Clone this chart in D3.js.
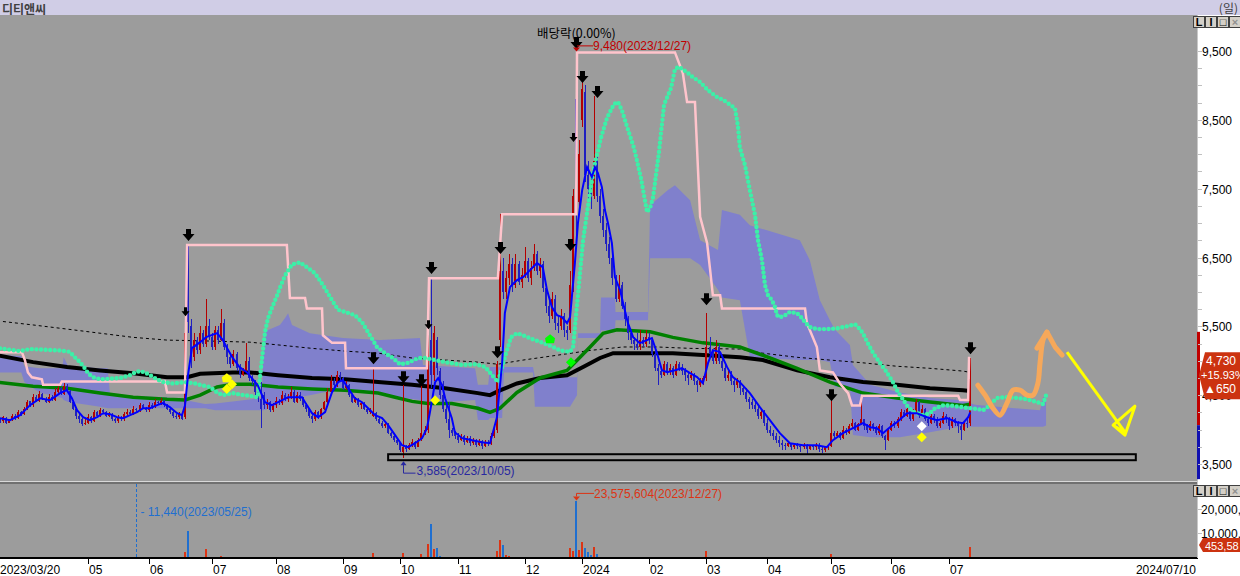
<!DOCTYPE html>
<html><head><meta charset="utf-8">
<script src="https://cdn.jsdelivr.net/npm/d3@7"></script>
<style>
html,body{margin:0;padding:0;background:#fff;}
svg{display:block;}
text{font-family:"Liberation Sans",Arial,sans-serif;}
.kr{font-family:"Noto Sans CJK KR","Noto Sans",sans-serif;}
</style></head><body>
<svg id="c" width="1240" height="576"></svg>
<script>
// ---------- DATA ----------
const title = "디티앤씨";
const periodLabel = "(일)";
const opens = [
4180,4150,4120,4170,4100,4150,4200,4170,4250,4230, 4300,4410,4350,4480,4420,4520,4450,4400,4480,4430,
4550,4600,4520,4640,4560,4400,4300,4200,4150,4080, 4100,4180,4120,4250,4200,4280,4250,4200,4220,4150,
4120,4180,4150,4220,4260,4230,4300,4280,4350,4320, 4280,4360,4330,4400,4380,4420,4350,4300,4250,4200,
4180,4230,4180,6450,5500,5050,5300,5150,5400,5250, 5500,5350,5200,5450,5300,5550,5200,5050,4950,5100,
4900,4800,4850,5000,4750,4700,4550,4450,4500,4350, 4400,4280,4350,4420,4380,4500,4450,4480,4550,4400,
4500,4450,4350,4300,4200,4150,4250,4180,4300,4400, 4550,4700,4650,4800,4750,4600,4650,4500,4400,4450,
4350,4380,4300,4250,4200,4240,4150,4100,4050,4080, 3950,3900,3850,3800,3680,3750,3720,3780,3820,3750,
3850,3950,4000,5300,4800,5300,4850,4500,4300,4150, 4000,3950,3900,3850,3900,3820,3880,3800,3850,3780,
3830,3760,3820,3800,3900,4000,5300,6300,6000,6200, 6400,6100,6400,6150,6250,6450,6200,6350,6550,6300,
6400,6050,5800,5650,5900,5550,5500,5650,5450,5450, 6100,8800,7300,8500,8900,7700,7500,7400,7900,7400,
7100,6900,6700,6500,6200,5900,6100,5800,5600,5400, 5300,5250,5200,5300,5250,5350,5300,5100,4900,4850,
4800,4950,4850,4900,4800,4950,4900,4850,4800,4750, 4800,4700,4650,4700,4750,5200,5100,5000,5200,5000,
4900,4750,4800,4700,4650,4700,4600,4550,4450,4400, 4350,4300,4200,4250,4100,4000,3950,3900,3850,3800,
3780,3760,3800,3740,3780,3760,3740,3780,3720,3760, 3740,3780,3720,3700,3740,3760,3950,3900,3950,3880,
4000,3950,4050,4100,4000,4080,4150,4050,4000,4080, 4020,3950,4050,3900,3850,4000,4100,4050,4150,4250,
4200,4300,4150,4250,4400,4200,4300,4150,4100,4200, 4150,4050,4100,4200,4150,4050,4150,4100,4050,4000,
4100,4100];
const highs = [
4200,4170,4200,4180,4160,4230,4220,4280,4270,4330, 4430,4420,4520,4500,4560,4530,4470,4520,4500,4600,
4650,4620,4680,4660,4580,4420,4320,4230,4170,4150, 4220,4200,4280,4270,4320,4300,4270,4250,4240,4170,
4210,4200,4250,4300,4290,4340,4320,4390,4370,4330, 4400,4380,4440,4420,4460,4430,4370,4310,4270,4230,
4260,4250,5420,6680,5600,5400,5350,5500,5450,5900, 5600,5400,5500,5500,5750,5600,5250,5100,5150,5120,
4950,4900,5260,5050,4800,4720,4600,4690,4550,4450, 4420,4380,4470,4450,4560,4530,4520,4620,4570,4540,
4550,4480,4380,4320,4230,4280,4270,4320,4420,4600, 4800,4750,4850,4830,4760,4700,4660,4520,4480,4460,
4420,4400,4330,4320,4900,4260,4180,4120,4120,4100, 3960,3920,3870,3820,4650,3780,3810,3860,3840,3880,
4650,4050,5400,6200,5500,5350,4900,4700,4350,4400, 4030,3980,3950,3940,3920,3910,3900,3880,3870,3860,
3850,3850,3850,3950,4050,5000,7130,6500,6300,6550, 6500,6550,6450,6350,6650,6500,6450,6700,6600,6500,
6450,6100,5900,6000,5950,5650,5750,5700,5500,6300, 7500,9480,8200,9100,9000,7900,7700,8850,8000,7500,
7200,7000,6800,6550,6250,6250,6150,5850,5650,5450, 5350,5400,5450,5350,5450,5400,5300,5150,4950,4900,
5000,4980,4950,4920,5000,4980,4950,4900,4820,4850, 4820,4720,4750,4780,5700,5350,5150,5300,5250,5050,
4950,4850,4850,4750,4750,4720,4650,4600,4480,4450, 4400,4350,4300,4280,4150,4050,4000,3950,3900,3850,
3800,3830,3810,3800,3800,3790,3800,3790,3780,3780, 3800,3800,3750,3760,3780,4450,3980,3980,3960,4050,
4030,4080,4150,4110,4100,4470,4160,4080,4120,4100, 4050,4080,4060,3920,4020,4120,4130,4180,4300,4280,
4350,4320,4300,4450,4420,4350,4320,4180,4250,4230, 4180,4130,4250,4220,4180,4180,4170,4120,4080,4120,
4150,5040];
const lows = [
4120,4100,4100,4080,4090,4130,4140,4150,4200,4210, 4280,4330,4330,4400,4400,4430,4380,4380,4410,4420,
4520,4500,4500,4540,4380,4280,4150,4100,4050,4060, 4080,4100,4110,4170,4190,4230,4180,4180,4130,4090,
4100,4130,4130,4200,4210,4210,4260,4260,4300,4260, 4260,4300,4310,4350,4360,4330,4280,4220,4170,4150,
4160,4140,4160,5400,4900,5000,5100,5100,5200,5200, 5300,5150,5150,5250,5280,5150,4950,4900,4920,4850,
4750,4780,4820,4700,4650,4500,4400,4020,4300,4300, 4250,4250,4320,4350,4360,4420,4400,4450,4380,4380,
4420,4330,4250,4170,4100,4130,4150,4160,4280,4380, 4520,4600,4620,4700,4580,4580,4470,4380,4380,4330,
4300,4280,4220,4230,4180,4120,4080,4030,4030,3930, 3880,3820,3780,3680,3585,3680,3700,3740,3720,3740,
3830,3920,3950,4600,4700,4800,4450,4250,4100,3880, 3900,3860,3800,3830,3780,3800,3760,3780,3740,3760,
3720,3740,3760,3780,3880,3950,5200,5900,5900,6100, 6000,6050,6100,6050,6200,6150,6100,6300,6250,6200,
6000,5700,5550,5600,5450,5400,5450,5350,5300,5400, 6000,6800,7200,8400,7600,7300,7200,7350,7300,7000,
6800,6600,6400,6100,5850,5850,5750,5500,5300,5250, 5150,5150,5150,5200,5200,5250,5050,4850,4650,4750,
4780,4800,4800,4750,4780,4850,4800,4700,4650,4720, 4650,4550,4620,4650,4700,5050,4950,4950,4950,4850,
4700,4700,4650,4550,4600,4500,4500,4400,4300,4300, 4250,4150,4150,4050,3950,3900,3850,3800,3750,3700,
3700,3740,3700,3720,3720,3680,3720,3650,3700,3700, 3700,3680,3660,3680,3700,3740,3850,3880,3850,3860,
3920,3930,4030,3980,3980,4060,4000,3950,3980,3980, 3920,3920,3880,3700,3840,3980,4020,4030,4130,4180,
4180,4120,4130,4230,4170,4180,4120,4050,4080,4100, 4020,4020,4080,4100,4000,4030,4050,3950,3850,3980,
4020,4050];
const closes = [
4150,4120,4180,4100,4140,4200,4160,4250,4220,4300, 4400,4350,4480,4420,4520,4450,4400,4480,4430,4550,
4600,4520,4640,4560,4400,4300,4200,4150,4080,4100, 4180,4120,4250,4200,4280,4250,4200,4220,4150,4120,
4180,4150,4220,4260,4230,4300,4280,4350,4320,4280, 4360,4330,4400,4380,4420,4350,4300,4250,4200,4180,
4230,4160,5400,5560,5000,5300,5150,5400,5250,5500, 5350,5200,5450,5300,5550,5200,5050,4950,5100,4900,
4800,4850,5000,4750,4700,4550,4450,4300,4350,4400, 4280,4350,4420,4380,4500,4450,4480,4550,4400,4500,
4450,4350,4300,4200,4150,4250,4180,4300,4400,4550, 4700,4650,4800,4750,4600,4650,4500,4400,4450,4350,
4380,4300,4250,4300,4240,4150,4100,4050,4080,3950, 3900,3850,3800,3700,3750,3720,3780,3820,3750,3850,
3950,4000,4900,4800,5400,4900,4500,4300,4150,4000, 3950,3900,3850,3900,3820,3880,3800,3850,3780,3830,
3760,3820,3800,3900,4000,4950,6300,6000,6200,6400, 6100,6400,6150,6250,6450,6200,6350,6550,6300,6400,
6050,5800,5650,5900,5550,5500,5650,5450,5400,6100, 7400,7300,8000,8950,7700,7500,7400,7900,7400,7100,
6900,6700,6500,6200,5900,6100,5800,5600,5400,5300, 5250,5200,5300,5250,5350,5300,5100,4900,4850,4800,
4950,4850,4900,4800,4950,4900,4850,4800,4750,4800, 4700,4650,4700,4750,5200,5100,5000,5200,5000,4900,
4750,4800,4700,4650,4700,4600,4550,4450,4400,4350, 4300,4200,4250,4100,4000,3950,3900,3850,3800,3780,
3760,3800,3740,3780,3760,3740,3780,3720,3760,3740, 3780,3720,3700,3740,3760,3950,3900,3950,3880,4000,
3950,4050,4100,4000,4080,4150,4050,4000,4080,4020, 3950,4050,3900,3850,4000,4100,4050,4150,4250,4200,
4300,4150,4250,4400,4200,4300,4150,4100,4200,4150, 4050,4100,4200,4150,4050,4150,4100,4050,4000,4100,
4080,4730];
// volume in thousands of shares
const volumes = [
250,300,200,260,220,280,240,300,260,230, 320,280,350,260,300,240,210,280,250,330,
300,270,310,280,240,220,260,230,250,210, 230,200,260,220,250,240,210,230,200,220,
240,210,260,230,250,280,230,270,240,220, 260,230,280,250,270,240,220,210,230,240,
260,280,2500,11440,600,550,400,350,300,3900, 500,350,300,280,900,300,350,500,280,260,
300,250,400,280,260,300,280,320,260,250, 240,260,280,250,300,260,240,280,260,250,
230,250,240,220,260,240,250,280,300,350, 330,300,320,280,260,250,240,230,250,240,
230,220,250,240,2100,300,260,240,230,280, 260,250,300,320,2000,280,260,300,250,280,
1800,400,5800,14000,3800,4000,1000,500,450,350, 400,300,280,260,250,280,240,260,230,250,
240,260,250,400,350,2900,7500,5400,1200,700, 600,500,400,350,330,400,300,280,320,300,
350,300,280,260,300,280,260,300,350,4000, 3000,23576,3400,6600,4000,2400,1200,4500,1500,400,
350,300,320,400,300,400,280,300,260,250, 240,260,250,230,260,240,230,250,260,240,
230,250,240,220,260,230,240,220,250,230, 240,260,250,300,2900,500,400,300,280,260,
250,240,260,230,250,240,220,260,240,230, 240,230,250,220,260,240,230,250,220,240,
230,250,220,240,230,250,220,240,230,210, 230,220,240,210,250,1700,300,260,280,250,
240,260,230,250,240,400,260,240,230,250, 240,230,250,260,240,230,250,240,260,230,
250,240,260,230,250,240,230,250,240,260, 230,250,240,220,260,240,230,250,240,260,
300,4536];
// month ticks (trading-day index) and labels
const tickIdx = [10,30,50,71,92,114,133,152,174,193,215,234,254,275,295,314];
const tickLabels = ["","05","06","07","08","09","10","11","12","2024","02","03","04","05","06","07"];
const startLabel = "2023/03/20", endLabel = "2024/07/10";
const priceTicks = [9500,8500,7500,6500,5500,4500,3500];
const volTicks = [20000,10000];
const volTickLabels = ["20,000,","10,000,"];
// moving averages [index, price]
const maShort = [[1,4166],[4.3,4137],[7.6,4209],[10.9,4355],[14.2,4456],[17.5,4427],[20.8,4529],[23,4573],[24.7,4456],[26.4,4282],[28.4,4180],[30.7,4137],[33,4180],[35,4238],[37.3,4224],[39.6,4180],[41.6,4166],[43.9,4209],[46.2,4253],[48.2,4311],[50.5,4311],[52.8,4355],[54.7,4384],[57,4326],[59.4,4238],[61,4209],[62,4350],[63,4790],[64.3,5183],[67,5270],[69,5343],[72.6,5401],[74.5,5300],[75.9,5183],[77.8,5038],[80,4907],[82.4,4834],[86,4645],[88.4,4398],[90.7,4355],[92.7,4398],[96,4471],[100.6,4471],[102.2,4355],[103.9,4238],[105.9,4180],[108.2,4253],[110.5,4544],[112.5,4689],[114.1,4718],[115.8,4602],[118,4456],[120.4,4398],[122.4,4311],[124.7,4209],[127,4166],[129,4064],[131.3,3919],[133.6,3773],[135.6,3744],[137.9,3802],[140.2,3875],[141.8,4020],[142.8,4253],[144.5,4689],[145.5,4747],[146.8,4645],[147.8,4456],[150,4166],[151,3962],[153.4,3875],[156.7,3846],[160,3817],[162.6,3802],[164.9,4180],[166.6,4965],[167.5,5692],[169.2,6070],[171.5,6171],[173.5,6215],[175.8,6317],[178.1,6419],[180,6361],[181.4,6026],[183,5779],[184.7,5663],[186.3,5634],[188,5546],[189,5634],[190.6,6419],[191.6,7000],[193,7480],[194.6,7814],[196.2,7669],[197.2,7814],[198.2,7727],[199.5,7523],[200.5,7189],[201.5,7000],[202.8,6709],[203.8,6215],[205.5,6026],[206.5,5837],[208.1,5546],[209.8,5343],[212,5256],[214.4,5300],[216,5329],[217.7,5110],[219.3,4863],[221,4834],[223.6,4863],[225.9,4892],[228.6,4820],[230.9,4762],[232.8,4674],[234.5,4965],[236.1,5154],[238.5,5125],[240.8,4907],[242.7,4762],[245,4689],[248.3,4529],[251.6,4326],[254.9,4137],[258.2,3948],[261.5,3802],[265.8,3773],[270.4,3773],[273.7,3744],[275.7,3846],[279,3948],[282.3,4020],[285.6,4093],[288,4035],[290.2,4020],[292.2,3948],[294.5,4035],[296.8,4107],[300.1,4238],[303.4,4238],[306.7,4180],[310,4137],[313.3,4166],[316.6,4107],[318.6,4093],[320.3,4180],[321,4250]];
const maMid = [[0,4690],[11.9,4630],[23.1,4600],[34,4530],[44.9,4470],[56.1,4440],[62,4430],[67,4500],[72.6,4620],[77.8,4660],[83.4,4660],[92.7,4620],[103.9,4590],[114.8,4570],[125.7,4530],[131.3,4470],[136.9,4410],[142.1,4380],[150,4380],[158.6,4310],[162.6,4250],[165.9,4310],[171.5,4540],[179.1,4750],[188,4860],[192.3,5050],[195.6,5200],[199.9,5400],[204.5,5450],[215.4,5420],[222.9,5340],[232.8,5260],[239.4,5230],[245,5200],[252.6,5080],[263.9,4890],[274.7,4690],[285.6,4530],[296.8,4460],[307.7,4400],[318.6,4350],[321,4370]];
const maLong = [[0,5080],[11.9,4980],[23.1,4910],[34,4860],[44.9,4820],[56.1,4760],[62.7,4760],[67,4810],[77.8,4830],[83.4,4830],[92.7,4790],[103.9,4750],[114.8,4730],[125.7,4690],[136.9,4650],[147.8,4600],[158.6,4530],[162.6,4500],[165.9,4570],[171.5,4670],[179.1,4750],[188,4790],[193.3,4910],[198.9,5040],[203.2,5110],[212.1,5110],[222.9,5110],[234.2,5080],[245,5050],[252.6,5010],[263.9,4860],[274.7,4760],[285.6,4690],[296.8,4650],[307.7,4600],[318.6,4570],[321,4560]];
const maVeryLong = [[0,5580],[11.9,5520],[23.1,5460],[34,5400],[44.9,5340],[56.1,5300],[67,5290],[83.4,5270],[92.7,5230],[103.9,5180],[114.8,5140],[125.7,5110],[136.9,5040],[147.8,5010],[158.6,4980],[165.2,4950],[173.5,5010],[184.7,5080],[195.6,5150],[206.5,5200],[217.7,5200],[228.6,5180],[245,5170],[252.6,5110],[263.9,5050],[274.7,5010],[285.6,4970],[296.8,4920],[307.7,4890],[318.6,4850],[321,4830]];
const highLine = [[0,5125],[8.2,5125],[9.2,5010],[10.2,4830],[11.5,4760],[14.8,4730],[15.2,4650],[20.8,4650],[21.4,4700],[55.4,4700],[56.1,4540],[62,4540],[62.7,6680],[95.6,6680],[96.6,5910],[101.6,5910],[102.2,5760],[107.2,5760],[107.5,5370],[110.5,5260],[114.8,5260],[115.1,4890],[141.8,4890],[142.5,6200],[165.2,6200],[166.6,7130],[191,7130],[191.3,9480],[223.6,9480],[226.2,9180],[227.6,8760],[230.2,8760],[231.9,7090],[234.2,6710],[235.2,6320],[236.1,5950],[238.5,5950],[239.1,5760],[266.5,5760],[267.1,5550],[270.4,5200],[271.4,4860],[275.7,4830],[278,4670],[280.7,4530],[282,4350],[284.6,4350],[285.3,4490],[317,4490],[317.6,4430],[320.3,4430],[320.6,5040],[321,5040]];
const leadLine = [[1,5180],[7.6,5140],[10.9,5170],[20.8,5150],[24,5130],[25.7,5050],[27.4,4980],[29,4890],[30,4820],[31.7,4760],[34,4730],[40.6,4750],[43.9,4790],[45.5,4830],[47.2,4850],[48.8,4830],[50.5,4790],[52.8,4730],[54.8,4690],[58,4670],[62,4690],[65.3,4670],[67,4650],[70.2,4620],[72.6,4540],[74.5,4500],[77.8,4530],[80,4510],[83.4,4490],[86,4470],[88.4,5420],[89.4,5620],[90.7,5770],[92.4,5950],[93.3,6060],[95,6240],[97.3,6400],[99.9,6430],[102.2,6360],[104.9,6270],[107.5,6100],[110.5,5880],[112.5,5740],[114.8,5710],[118.1,5660],[120.4,5560],[123,5370],[125.3,5200],[128,5110],[130.6,5040],[132.9,4950],[135.6,4970],[138.9,5040],[141.2,5040],[144.5,5010],[147.8,4980],[153.4,4940],[157.7,4950],[161,4910],[163.3,4790],[165.2,4690],[167.9,5110],[169.5,5340],[171.5,5400],[173.5,5370],[176.8,5310],[180.1,5260],[183.4,5200],[185.7,5150],[189,5130],[190,5200],[191.3,5810],[193.3,6750],[195.3,7360],[196.9,7810],[199.2,8240],[201.2,8530],[203.5,8730],[204.8,8760],[206.1,8640],[207.8,8400],[210.1,8090],[212.4,7650],[214.4,7160],[215.4,7220],[216.4,7380],[218.3,8020],[220,8720],[222.3,8960],[223.6,9240],[224.9,9270],[227.6,9190],[229.5,9120],[231.9,9050],[234.5,8930],[237.5,8830],[239.5,8790],[241.8,8720],[243.4,8670],[244.4,8400],[245,8100],[246.7,7840],[248.3,7480],[250,7120],[251,6750],[252.3,6460],[253.3,6100],[254.3,5950],[255.6,5880],[256.6,5780],[257.3,5660],[258.2,5630],[259.9,5660],[261.5,5710],[263.9,5690],[265.5,5620],[266.5,5560],[268.1,5490],[270.5,5460],[273.7,5460],[277,5470],[280.3,5500],[283,5530],[284,5490],[285.6,5400],[287,5270],[289,5110],[291.2,4970],[293.2,4850],[295.5,4690],[297.2,4540],[298.5,4460],[300.1,4350],[301.8,4270],[303.4,4240],[305.4,4210],[307.7,4240],[309.4,4310],[312,4350],[314.3,4350],[317.6,4330],[320.9,4310],[323.5,4300],[325.2,4280],[326.8,4330],[329.8,4460],[333.1,4470],[336.4,4460],[339.7,4440],[343,4400],[345,4370],[346,4500]];
// cloud: [index, upper, lower]
const cloud = [[0,5080,4830],[8,5070,4830],[9,4920,4690],[14,4890,4540],[21.5,4890,4460],[22,5050,4430],[23.5,4920,4400],[34,4890,4330],[36.5,4890,4310],[37.3,4500,4310],[55.4,4470,4310],[62,4430,4310],[68.6,4370,4310],[72,4380,4280],[87.4,4460,4280],[88,5420,4280],[93.3,5520,4360],[95,5620,4400],[96,5690,4430],[97.3,5520,4460],[103.2,5400,4500],[114.1,5330,4600],[126.3,5300,4500],[139.5,5330,4430],[140.5,4940,4380],[157.7,4890,4430],[158.6,4650,4140],[162,4650,4140],[162.6,4910,4170],[166.6,4910,4170],[167.2,4910,4830],[176.8,4910,4830],[177.4,4760,4330],[189,4760,4330],[191.3,4760,4500],[191.6,5400,5330],[198.9,5400,5330],[199.2,5920,5440],[203.8,5920,5440],[204,5710,5590],[214.7,5710,5590],[215.4,7260,6490],[221.3,7480,6490],[223.6,7550,6490],[228.6,7330,6490],[231.9,6750,6390],[237.8,6610,6030],[239.1,7190,5920],[245,7120,5880],[248.3,6970,5050],[264.8,6750,5010],[268.1,6460,5010],[271.4,5880,5010],[274.7,5590,4980],[276.4,5450,4620],[281.3,5230,4620],[282.3,4940,3920],[288,4650,3890],[297.8,4540,3890],[307.7,4460,3960],[317.6,4430,4040],[322.6,4360,4040],[344,4280,4040],[345,4470,4040],[346,4470,4060]];
// signal arrows [index, price, big?]
const arrows = [[63,6826,1],[62,5706,0],[124,5038,1],[134,4762,1],[140,4718,1],[143,6346,1],[142,5517,0],[165,5125,1],[166,6637,1],[189,6680,1],[190,8235,0],[191,9616,1],[193,9122,1],[198,8904,1],[234,5895,1],[275,4500,1],[321,5183,1]];
// symbols [index, price, shape, color]
const symbols = [[75.8,4747,"house","#ffff00"],[77.5,4660,"diamond","#ffff00"],[75.8,4590,"diamond","#ffff00"],[144.5,4427,"diamond","#ffff00"],[305,3890,"diamond","#ffff00"],[305,4050,"diamond","#ffffff"],[182.4,5314,"house","#00ff00"],[189.3,4980,"diamond","#00ff00"]];
// hand drawn annotations [index, price]
const orangeStroke = [[323.5,4645],[325.9,4500],[328.5,4311],[330.8,4209],[333.1,4384],[335.1,4573],[337.4,4573],[339.7,4500],[341.7,4500],[343.3,4674],[344,4965],[345,5300],[346.3,5416]];
const orangeHead = [[343,5183],[346.3,5416],[349,5198],[351.3,5081]];
const yellowStroke = [[352.9,5125],[372,3962]];
const yellowHead = [[368.1,4064],[375.3,4340],[372,3919],[368.1,4064],[372,3962]];
const supportBox = {i0:129,i1:375.6,p0:3642,p1:3555};
const maxPrice = {i:191,p:9480,label:"9,480(2023/12/27)"};
const minPrice = {i:134,p:3585,label:"3,585(2023/10/05)"};
const dividendLabel = "배당락(0.00%)";
const maxVol = {i:191,v:23576,label:"23,575,604(2023/12/27)"};
const markerDay = {i:46,label:"- 11,440(2023/05/25)"};
const lastPrice = ["4,730","+15.93%","▲650"];
const lastVolLabel = "453,58";
const priceBand = [[5420,4064,"#c00000"],[4064,3280,"#1010b0"]];

// ---------- DRAW ----------
const svg = d3.select("#c");
const W = 1240, H = 576, R = 1197;
const bg = "#9c9c9c";
const x = d3.scaleLinear().domain([0,396]).range([-3, -3 + 396*3.032]);
const y = d3.scaleLinear().domain([3500,9500]).range([464,51]);
const yv = d3.scaleLinear().domain([0,20000]).range([557,509]);

const defs = svg.append("defs");
defs.append("clipPath").attr("id","cp").append("rect").attr("x",0).attr("y",15).attr("width",R).attr("height",466);
defs.append("clipPath").attr("id","cv").append("rect").attr("x",0).attr("y",484).attr("width",R).attr("height",74);
defs.append("clipPath").attr("id","cbox").append("rect").attr("x",1197).attr("y",0).attr("width",43).attr("height",576);

svg.append("rect").attr("width",W).attr("height",H).attr("fill","#fff");
svg.append("rect").attr("width",W).attr("height",15).attr("fill","#d0cde6");
svg.append("text").attr("class","kr").attr("x",2).attr("y",13.5).attr("font-size",12).attr("font-weight","bold").attr("fill","#404040").text(title);
svg.append("text").attr("class","kr").attr("x",1238).attr("y",13).attr("text-anchor","end").attr("font-size",12).attr("fill","#404040").text(periodLabel);

svg.append("rect").attr("x",0).attr("y",15).attr("width",R).attr("height",466).attr("fill",bg);
svg.append("rect").attr("x",0).attr("y",481).attr("width",R).attr("height",1).attr("fill","#d8d8d8");
svg.append("rect").attr("x",0).attr("y",482).attr("width",R).attr("height",2).attr("fill","#707070");
svg.append("rect").attr("x",0).attr("y",484).attr("width",R).attr("height",74).attr("fill",bg);

const gp = svg.append("g").attr("clip-path","url(#cp)");
// cloud
gp.append("path").datum(cloud)
  .attr("d", d3.area().x(d=>x(d[0])).y0(d=>y(d[2])).y1(d=>y(d[1])))
  .attr("fill","#8080cc");
const line = d3.line().x(d=>x(d[0])).y(d=>y(d[1]));
gp.append("path").datum(maVeryLong).attr("d",line).attr("fill","none").attr("stroke","#000").attr("stroke-width",1).attr("stroke-dasharray","3,3");
gp.append("path").datum(maLong).attr("d",line).attr("fill","none").attr("stroke","#000").attr("stroke-width",4);
gp.append("path").datum(maMid).attr("d",line).attr("fill","none").attr("stroke","#008000").attr("stroke-width",3.5);

// candles
const gc = gp.append("g").attr("shape-rendering","crispEdges");
closes.forEach((c,i)=>{
  const up = c >= opens[i];
  const col = up ? "#b40000" : "#2020c0";
  const cx = Math.round(x(i));
  gc.append("rect").attr("x",cx).attr("y",y(highs[i])).attr("width",1)
    .attr("height",Math.max(1,y(lows[i])-y(highs[i]))).attr("fill",col);
  const t = y(Math.max(opens[i],c)), b = y(Math.min(opens[i],c));
  gc.append("rect").attr("x",cx-1).attr("y",t).attr("width",2).attr("height",Math.max(1,b-t)).attr("fill",col);
});
gp.append("path").datum(highLine).attr("d",line).attr("fill","none").attr("stroke","#ffc4cc").attr("stroke-width",2.5);
gp.append("path").datum(leadLine).attr("d",line).attr("fill","none").attr("stroke","#3cf0a8")
  .attr("stroke-width",4.4).attr("stroke-linecap","round").attr("stroke-dasharray","0,4.6");
gp.append("path").datum(maShort).attr("d",line).attr("fill","none").attr("stroke","#0000ff").attr("stroke-width",2);

// arrows
arrows.forEach(([i,p,big])=>{
  const cx = Math.round(x(i))+0.5, cy = y(p);
  const d = big
    ? `M${cx-2.5},${cy-6}h5v5h3.5l-6,7l-6,-7h3.5z`
    : `M${cx-1.5},${cy-5}h3v4h2.5l-4,5l-4,-5h2.5z`;
  gp.append("path").attr("d",d).attr("fill","#000");
});
// symbols
symbols.forEach(([i,p,s,col])=>{
  const cx = x(i), cy = y(p);
  const d = s==="diamond"
    ? `M${cx},${cy-5}L${cx+5},${cy}L${cx},${cy+5}L${cx-5},${cy}Z`
    : `M${cx},${cy-5}L${cx+5},${cy-1}L${cx+4},${cy+4}L${cx-4},${cy+4}L${cx-5},${cy-1}Z`;
  gp.append("path").attr("d",d).attr("fill",col);
});
// support box
gp.append("rect").attr("x",x(supportBox.i0)).attr("y",y(supportBox.p0))
  .attr("width",x(supportBox.i1)-x(supportBox.i0)).attr("height",y(supportBox.p1)-y(supportBox.p0))
  .attr("fill","none").attr("stroke","#000").attr("stroke-width",2);
// hand drawings
const ln = d3.line().x(d=>x(d[0])).y(d=>y(d[1])).curve(d3.curveCatmullRom);
gp.append("path").datum(orangeStroke).attr("d",ln).attr("fill","none").attr("stroke","#f6a85a").attr("stroke-width",5).attr("stroke-linecap","round").attr("stroke-linejoin","round");
const lnS = d3.line().x(d=>x(d[0])).y(d=>y(d[1]));
gp.append("path").datum(orangeHead).attr("d",lnS).attr("fill","none").attr("stroke","#f6a85a").attr("stroke-width",5).attr("stroke-linecap","round").attr("stroke-linejoin","round");
gp.append("path").datum(yellowStroke).attr("d",lnS).attr("fill","none").attr("stroke","#ffff00").attr("stroke-width",3);
gp.append("path").datum(yellowHead).attr("d",lnS).attr("fill","none").attr("stroke","#ffff00").attr("stroke-width",3).attr("stroke-linejoin","round");

// max/min labels
{
  const px = Math.round(x(maxPrice.i)), py = y(maxPrice.p);
  gp.append("path").attr("d",`M${px-3},${py-5}h7l-3.5,4z`).attr("fill","#c00000");
  gp.append("line").attr("x1",px+1).attr("x2",px+17).attr("y1",py-6.5).attr("y2",py-6.5).attr("stroke","#c00000").attr("stroke-width",1);
  gp.append("text").attr("x",px+17).attr("y",py-2).attr("font-size",12).attr("fill","#c00000").text(maxPrice.label);
  gp.append("text").attr("class","kr").attr("x",px-39).attr("y",py-14).attr("font-size",12.5).attr("fill","#000").text(dividendLabel);
  const qx = Math.round(x(minPrice.i))+0.5, qy = y(minPrice.p);
  gp.append("path").attr("d",`M${qx},${qy+3}l-3,4h6z`).attr("fill","#2828a0");
  gp.append("path").attr("d",`M${qx},${qy+5}V${qy+15}H${qx+12}`).attr("fill","none").attr("stroke","#2828a0").attr("stroke-width",1);
  gp.append("text").attr("x",qx+13).attr("y",qy+17).attr("font-size",12).attr("fill","#2828a0").text(minPrice.label);
}

// volume panel
const gv = svg.append("g").attr("clip-path","url(#cv)");
const gvb = gv.append("g").attr("shape-rendering","crispEdges");
volumes.forEach((v,i)=>{
  const up = closes[i] >= opens[i];
  const cx = Math.round(x(i));
  const h = Math.max(1, yv(0)-yv(v));
  gvb.append("rect").attr("x",cx-1).attr("y",yv(0)-h+1).attr("width",2).attr("height",h).attr("fill", up ? "#dc3414" : "#1f6fd0");
});
{
  const mx = Math.round(x(markerDay.i))+0.5;
  gv.append("line").attr("x1",mx).attr("x2",mx).attr("y1",484).attr("y2",558).attr("stroke","#1f6fd0").attr("stroke-dasharray","3,2");
  gv.append("text").attr("x",mx+4).attr("y",516).attr("font-size",12).attr("fill","#1f6fd0").text(markerDay.label);
  const vx = Math.round(x(maxVol.i)), vy = yv(maxVol.v);
  gv.append("path").attr("d",`M${vx-3},${vy-4}h7l-3.5,4z`).attr("fill","#dc3414");
  gv.append("path").attr("d",`M${vx+0.5},${vy-4}V${vy-7}H${vx+18}`).attr("fill","none").attr("stroke","#dc3414");
  gv.append("text").attr("x",vx+18).attr("y",vy-2).attr("font-size",12).attr("fill","#dc3414").text(maxVol.label);
}

// x axis
svg.append("rect").attr("x",0).attr("y",557).attr("width",R+1).attr("height",2).attr("fill","#000");
tickIdx.forEach((t,k)=>{
  const tx = Math.round(x(t));
  svg.append("rect").attr("x",tx).attr("y",559).attr("width",1).attr("height",5).attr("fill","#000");
  if (tickLabels[k]) svg.append("text").attr("x",tx+1).attr("y",574).attr("font-size",12).attr("fill","#000").text(tickLabels[k]);
});
svg.append("rect").attr("x",0).attr("y",559).attr("width",62).attr("height",17).attr("fill","#fff");
svg.append("text").attr("x",0).attr("y",574).attr("font-size",12).attr("fill","#000").text(startLabel);
svg.append("text").attr("x",1196).attr("y",574).attr("text-anchor","end").attr("font-size",12).attr("fill","#000").text(endLabel);

// right price axis
svg.append("rect").attr("x",1197).attr("y",15).attr("width",1).attr("height",543).attr("fill","#c8c8c8");
priceBand.forEach(([a,b,col])=>{
  svg.append("rect").attr("x",1197).attr("y",y(a)).attr("width",3).attr("height",Math.min(481,y(b))-y(a)).attr("fill",col);
});
d3.range(3500,9501,250).forEach(p=>{
  svg.append("rect").attr("x",1198).attr("y",Math.round(y(p))).attr("width",4).attr("height",1).attr("fill","#c0c0c0");
});
priceTicks.forEach(p=>{
  svg.append("text").attr("x",1202).attr("y",y(p)+5).attr("font-size",12).attr("fill","#000").text(d3.format(",")(p));
});
volTicks.forEach((v,k)=>{
  svg.append("rect").attr("x",1198).attr("y",Math.round(yv(v))).attr("width",4).attr("height",1).attr("fill","#c0c0c0");
  svg.append("text").attr("x",1201).attr("y",yv(v)+5).attr("font-size",12).attr("fill","#000").text(volTickLabels[k]);
});
const gb = svg.append("g").attr("clip-path","url(#cbox)");
{
  const cy = y(closes[closes.length-1]) - 4;
  gb.append("path").attr("d",`M1199,${cy}L1205,${cy-23}H1241V${cy+24}H1205Z`).attr("fill","#cc3310");
  gb.append("text").attr("x",1236).attr("y",cy-10).attr("text-anchor","end").attr("font-size",12).attr("fill","#fff").text(lastPrice[0]);
  gb.append("text").attr("x",1201).attr("y",cy+4).attr("font-size",11).attr("fill","#fff").text(lastPrice[1]);
  gb.append("text").attr("x",1236).attr("y",cy+18).attr("text-anchor","end").attr("font-size",12).attr("fill","#fff").text(lastPrice[2]);
  const vy = yv(volumes[volumes.length-1]) - 1;
  gb.append("path").attr("d",`M1199,${vy}L1203,${vy-7}H1241V${vy+7}H1203Z`).attr("fill","#cc3310");
  gb.append("text").attr("x",1205).attr("y",vy+4.5).attr("font-size",11).attr("fill","#fff").text(lastVolLabel);
}
// panel buttons
[16,485].forEach(by=>{
  ["L","I","□","×"].forEach((g,k)=>{
    const bx = 1193 + k*12;
    svg.append("rect").attr("x",bx+0.5).attr("y",by+0.5).attr("width",11).attr("height",11).attr("fill","#d4d0c8").attr("stroke","#404040");
    svg.append("text").attr("x",bx+6).attr("y",by+10).attr("text-anchor","middle").attr("font-size",11).attr("font-weight","bold")
      .attr("fill", k===3 ? "#909090" : "#000").text(g);
  });
});
</script>
</body></html>
